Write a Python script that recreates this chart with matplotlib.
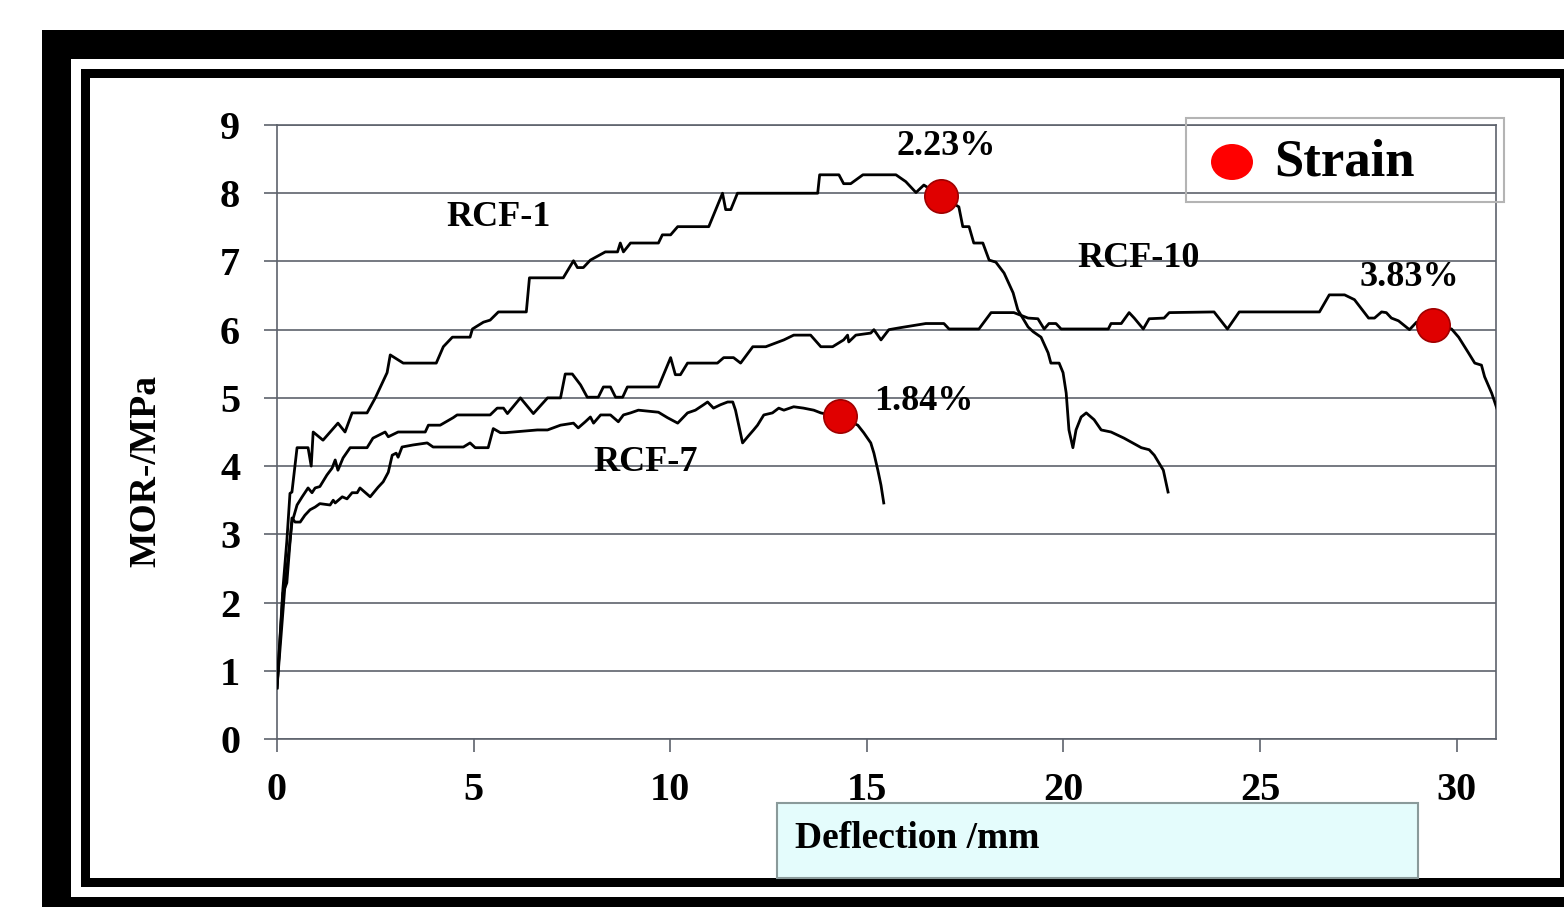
import matplotlib
matplotlib.use("Agg")
import matplotlib.pyplot as plt
from matplotlib.patches import Rectangle, Ellipse

# ---- data ----
rcf1_x = [0, 0.15, 0.25, 0.33, 0.38, 0.51, 0.79, 0.87, 0.92, 1.17, 1.55, 1.73, 1.91, 2.29, 2.5,
          2.80, 2.88, 3.21, 4.05, 4.23, 4.46, 4.91, 4.97, 5.25, 5.42, 5.63, 6.34, 6.42, 7.28,
          7.54, 7.64, 7.79, 7.97, 8.35, 8.66, 8.73, 8.81, 8.99, 9.70, 9.80, 10.01, 10.19, 10.98,
          11.23, 11.33, 11.41, 11.54, 11.71, 13.75, 13.80, 14.29, 14.41, 14.59, 14.90, 15.74,
          15.99, 16.25, 16.45, 16.88, 17.34, 17.44, 17.60, 17.72, 17.95, 18.11, 18.28, 18.49,
          18.72, 18.84, 19.10, 19.23, 19.43, 19.61, 19.68, 19.89, 19.99, 20.07, 20.14, 20.24,
          20.32, 20.45, 20.58, 20.78, 20.96, 21.21, 21.54, 21.98, 22.18, 22.31, 22.54, 22.66]
rcf1_y = [0.75, 2.2, 2.9, 3.6, 3.62, 4.27, 4.27, 4.0, 4.5, 4.38, 4.63, 4.5, 4.78, 4.78, 5.0,
          5.37, 5.63, 5.51, 5.51, 5.75, 5.89, 5.89, 6.01, 6.11, 6.14, 6.26, 6.26, 6.76, 6.76,
          7.01, 6.91, 6.91, 7.02, 7.14, 7.14, 7.27, 7.14, 7.27, 7.27, 7.39, 7.39, 7.51, 7.51,
          7.86, 8.0, 7.76, 7.76, 8.0, 8.0, 8.27, 8.27, 8.14, 8.14, 8.27, 8.27,
          8.17, 8.01, 8.12, 7.96, 7.80, 7.51, 7.51, 7.27, 7.27, 7.02, 6.99, 6.83,
          6.54, 6.29, 6.04, 5.97, 5.89, 5.66, 5.51, 5.51, 5.37, 5.07, 4.53, 4.27,
          4.53, 4.72, 4.78, 4.68, 4.53, 4.50, 4.41, 4.27, 4.24, 4.16, 3.94, 3.62]

rcf10_x = [0, 0.20, 0.38, 0.51, 0.64, 0.79, 0.89, 0.97, 1.09, 1.27, 1.40, 1.48, 1.55, 1.68, 1.86,
           2.29, 2.44, 2.75, 2.83, 3.08, 3.77, 3.85, 4.15, 4.48, 4.58, 5.42, 5.60, 5.76, 5.86,
           6.19, 6.52, 6.88, 7.21, 7.33, 7.51, 7.72, 7.89, 8.17, 8.30, 8.48, 8.61, 8.79, 8.91,
           9.70, 10.01, 10.13, 10.26, 10.44, 11.20, 11.36, 11.61, 11.79, 12.10, 12.43, 12.89,
           13.14, 13.57, 13.83, 14.13, 14.41, 14.51, 14.54, 14.72, 15.10, 15.18, 15.36, 15.56,
           15.86, 16.50, 16.96, 17.09, 17.85, 18.16, 18.74, 19.10, 19.35, 19.51, 19.63, 19.81,
           19.94, 21.14, 21.21, 21.47, 21.67, 21.80, 22.03, 22.18, 22.56, 22.69, 23.83, 24.17,
           24.47, 26.51, 26.76, 27.15, 27.40, 27.76, 27.91, 28.09, 28.21, 28.34, 28.52, 28.80,
           28.98, 29.39, 29.87, 30.05, 30.30, 30.46, 30.63, 30.71, 30.89, 31.02]
rcf10_y = [0.75, 2.23, 3.17, 3.43, 3.55, 3.68, 3.61, 3.68, 3.70, 3.87, 3.97, 4.09, 3.94, 4.12, 4.27,
           4.27, 4.41, 4.50, 4.43, 4.50, 4.50, 4.60, 4.60, 4.71, 4.75, 4.75, 4.85, 4.85, 4.77,
           5.00, 4.77, 5.00, 5.00, 5.35, 5.35, 5.19, 5.01, 5.01, 5.16, 5.16, 5.01, 5.01, 5.16,
           5.16, 5.59, 5.34, 5.34, 5.51, 5.51, 5.59, 5.59, 5.51, 5.75, 5.75, 5.85,
           5.92, 5.92, 5.75, 5.75, 5.85, 5.92, 5.82, 5.92, 5.95, 6.00, 5.85, 6.00,
           6.03, 6.09, 6.09, 6.01, 6.01, 6.25, 6.25, 6.17, 6.16, 6.01, 6.09, 6.09,
           6.01, 6.01, 6.09, 6.09, 6.25, 6.17, 6.01, 6.16, 6.17, 6.25, 6.26, 6.01,
           6.26, 6.26, 6.51, 6.51, 6.44, 6.17, 6.17, 6.26, 6.25, 6.17, 6.13, 6.00,
           6.11, 6.07, 6.01, 5.89, 5.66, 5.51, 5.48, 5.31, 5.07, 4.85]

rcf7_x = [0, 0.15, 0.25, 0.38, 0.46, 0.59, 0.71, 0.84, 0.97, 1.09, 1.35, 1.43, 1.48, 1.66, 1.78,
          1.91, 2.04, 2.11, 2.37, 2.57, 2.70, 2.83, 2.93, 3.03, 3.08, 3.18, 3.46, 3.82, 3.97,
          4.74, 4.91, 5.04, 5.37, 5.50, 5.68, 5.81, 6.01, 6.62, 6.88, 7.21, 7.54, 7.66, 7.84,
          7.97, 8.05, 8.23, 8.48, 8.68, 8.81, 8.99, 9.19, 9.70, 9.93, 10.19, 10.44, 10.64,
          10.85, 10.95, 11.10, 11.28, 11.46, 11.59, 11.66, 11.84, 11.97, 12.12, 12.22, 12.38,
          12.60, 12.76, 12.89, 13.14, 13.39, 13.65, 13.83, 14.31, 14.77, 14.92, 15.10, 15.18,
          15.28, 15.36, 15.43]
rcf7_y = [0.75, 2.14, 2.29, 3.24, 3.18, 3.18, 3.28, 3.36, 3.40, 3.45, 3.43, 3.50, 3.46, 3.55, 3.52,
          3.61, 3.61, 3.68, 3.55, 3.69, 3.77, 3.91, 4.16, 4.19, 4.13, 4.28, 4.31, 4.34, 4.28,
          4.28, 4.34, 4.27, 4.27, 4.55, 4.49, 4.49, 4.50, 4.53, 4.53, 4.60, 4.63, 4.56, 4.65,
          4.72, 4.63, 4.75, 4.75, 4.65, 4.75, 4.78, 4.82, 4.79, 4.71, 4.63, 4.78, 4.82,
          4.90, 4.94, 4.85, 4.90, 4.94, 4.94, 4.82, 4.34, 4.43, 4.53, 4.60, 4.75,
          4.78, 4.85, 4.82, 4.87, 4.85, 4.82, 4.78, 4.72, 4.60, 4.49, 4.34, 4.19,
          3.94, 3.72, 3.46]

strain_x = [16.88, 29.39, 14.31]
strain_y = [7.96, 6.07, 4.74]
strain_labels = ["2.23%", "3.83%", "1.84%"]
strain_label_x = [17.01, 28.80, 16.45]
strain_label_y = [8.68, 6.76, 4.94]

series_names = ["RCF-1", "RCF-10", "RCF-7"]
series_label_x = [5.63, 21.90, 9.37]
series_label_y = [7.65, 7.05, 4.06]

W, H = 1564, 907
serif = "Liberation Serif"


def fx(px):
    return px / W


def fy(py):
    return 1 - py / H


fig = plt.figure(figsize=(W / 100, H / 100), dpi=100)

# double black frame round the slide
fig.patches.append(Rectangle((fx(42), 0), 1, fy(30), transform=fig.transFigure,
                             facecolor="black", edgecolor="none", zorder=0))
fig.patches.append(Rectangle((fx(71), fy(897)), 1, fy(59) - fy(897), transform=fig.transFigure,
                             facecolor="white", edgecolor="none", zorder=0))
fig.patches.append(Rectangle((fx(81), fy(887)), 1, fy(69) - fy(887), transform=fig.transFigure,
                             facecolor="black", edgecolor="none", zorder=0))
fig.patches.append(Rectangle((fx(90), fy(878)), fx(1560) - fx(90), fy(78) - fy(878),
                             transform=fig.transFigure, facecolor="white", edgecolor="none", zorder=0))

# x axis title box (under the axes)
fig.patches.append(Rectangle((fx(777), fy(878)), fx(1418) - fx(777), fy(803) - fy(878),
                             transform=fig.transFigure, facecolor="#e4fcfc",
                             edgecolor="#8a9a9a", lw=1.5, zorder=1))

ax = fig.add_axes([fx(277), fy(739), fx(1496) - fx(277), fy(125) - fy(739)])
ax.set_zorder(2)
ax.set_facecolor("none")

grid_col = "#5d626c"
ax.plot(rcf1_x, rcf1_y, color="black", lw=2.0, zorder=3)
ax.plot(rcf10_x, rcf10_y, color="black", lw=2.0, zorder=3)
ax.plot(rcf7_x, rcf7_y, color="black", lw=2.0, zorder=3)
ax.plot(strain_x, strain_y, "o", color="#e00000", markersize=24, markeredgecolor="#a00000",
        markeredgewidth=1.2, zorder=4)

for lab, x, y in zip(strain_labels, strain_label_x, strain_label_y):
    ax.text(x, y, lab, fontsize=26, fontweight="bold", family=serif, ha="center", va="center")
for lab, x, y in zip(series_names, series_label_x, series_label_y):
    ax.text(x, y, lab, fontsize=26, fontweight="bold", family=serif, ha="center", va="center")

ax.set_xlim(0, 31)
ax.set_ylim(0, 9)
ax.set_xticks([0, 5, 10, 15, 20, 25, 30])
ax.set_yticks(range(10))
ax.yaxis.grid(True, color=grid_col, lw=1.2, zorder=1)
ax.set_axisbelow(True)
for s in ax.spines.values():
    s.set_color(grid_col)
    s.set_linewidth(1.2)
ax.tick_params(axis="y", direction="out", length=9.5, width=1.2, color=grid_col, pad=17)
ax.tick_params(axis="x", direction="out", length=9.5, width=1.2, color=grid_col, pad=14)
for t in ax.get_xticklabels() + ax.get_yticklabels():
    t.set_fontsize(29)
    t.set_fontweight("bold")
    t.set_family(serif)

# y axis title
fig.text(fx(146), fy(471), "MOR-/MPa", rotation=90, fontsize=27, fontweight="bold",
         family=serif, ha="center", va="center", zorder=3)

fig.text(fx(795), fy(838), "Deflection /mm", fontsize=27, fontweight="bold", family=serif,
         ha="left", va="center", zorder=3)

# legend box
fig.patches.append(Rectangle((fx(1186), fy(202)), fx(1504) - fx(1186), fy(118) - fy(202),
                             transform=fig.transFigure, facecolor="none",
                             edgecolor="#b4b4b4", lw=1.5, zorder=5))
fig.patches.append(Ellipse((fx(1232), fy(162)), fx(42), 36 / H, transform=fig.transFigure,
                           facecolor="#ff0000", edgecolor="none", zorder=5))
fig.text(fx(1274), fy(162), "Strain", fontsize=38, fontweight="bold", family=serif,
         ha="left", va="center", zorder=5)

fig.savefig("out.png", dpi=100)
